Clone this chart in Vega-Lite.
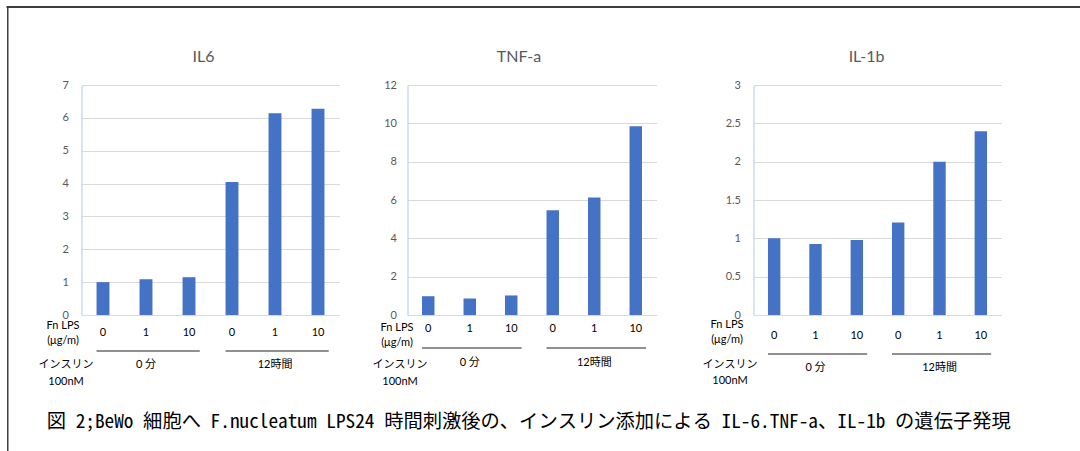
{
  "$schema": "https://vega.github.io/schema/vega-lite/v6.json",
  "padding": {"left": 6.5, "top": 6, "right": 0, "bottom": 0},
  "bounds": "flush",
  "spacing": 0,
  "config": {
    "font": "Lato, Noto Sans CJK JP",
    "view": {"stroke": null},
    "axis": {
      "labelFontSize": 11,
      "labelColor": "#595959",
      "titleFontSize": 11,
      "titleFontWeight": "normal",
      "titleColor": "#000000",
      "ticks": false,
      "gridColor": "#d9d9d9",
      "domainColor": "#b4c7e7"
    },
    "axisX": {
      "domain": false,
      "grid": false,
      "labelAngle": 0,
      "labelColor": "#000000",
      "titleAlign": "center",
      "titleBaseline": "top",
      "titleLineHeight": 15
    },
    "axisY": {"grid": true, "domain": true, "title": null},
    "title": {"fontSize": 16, "fontWeight": "normal", "color": "#595959", "frame": "group", "offset": 14},
    "text": {"fontSize": 11, "color": "#000000"},
    "rule": {"color": "#222222", "strokeWidth": 1.2}
  },
  "datasets": {
    "expr": [
      {"gene": "IL6", "cond": "0 分|0", "value": 1.0},
      {"gene": "IL6", "cond": "0 分|1", "value": 1.09},
      {"gene": "IL6", "cond": "0 分|10", "value": 1.15},
      {"gene": "IL6", "cond": "12時間|0", "value": 4.05},
      {"gene": "IL6", "cond": "12時間|1", "value": 6.14},
      {"gene": "IL6", "cond": "12時間|10", "value": 6.28},
      {"gene": "TNF-a", "cond": "0 分|0", "value": 0.98},
      {"gene": "TNF-a", "cond": "0 分|1", "value": 0.86},
      {"gene": "TNF-a", "cond": "0 分|10", "value": 1.02},
      {"gene": "TNF-a", "cond": "12時間|0", "value": 5.46},
      {"gene": "TNF-a", "cond": "12時間|1", "value": 6.13},
      {"gene": "TNF-a", "cond": "12時間|10", "value": 9.85},
      {"gene": "IL-1b", "cond": "0 分|0", "value": 1.0},
      {"gene": "IL-1b", "cond": "0 分|1", "value": 0.926},
      {"gene": "IL-1b", "cond": "0 分|10", "value": 0.978},
      {"gene": "IL-1b", "cond": "12時間|0", "value": 1.205},
      {"gene": "IL-1b", "cond": "12時間|1", "value": 2.0},
      {"gene": "IL-1b", "cond": "12時間|10", "value": 2.397}
    ],
    "groups": [
      {"insulin": "0 分", "from": "0 分|0", "mid": "0 分|1", "to": "0 分|10"},
      {"insulin": "12時間", "from": "12時間|0", "mid": "12時間|1", "to": "12時間|10"}
    ],
    "none": []
  },
  "vconcat": [
    {
      "width": 1073, "height": 0.01,
      "view": {"stroke": "#3d3d3d", "strokeWidth": 2},
      "data": {"name": "none"},
      "mark": "rule",
      "encoding": {}
    },
    {
      "bounds": "flush",
      "spacing": 73,
      "hconcat": [
        {
          "width": 0.01, "height": 444,
          "view": {"stroke": "#111111", "strokeWidth": 1.2},
          "data": {"name": "none"},
          "mark": "rule",
          "encoding": {}
        },
        {
          "bounds": "flush",
          "columns": 3,
          "align": "each",
          "spacing": {"row": 0, "column": 68},
          "title": {
            "text": "図 2;BeWo 細胞へ F.nucleatum LPS24 時間刺激後の、インスリン添加による IL-6.TNF-a、IL-1b の遺伝子発現",
            "orient": "bottom",
            "anchor": "middle",
            "frame": "bounds",
            "font": "Noto Sans Mono CJK JP, Noto Sans CJK JP",
            "fontSize": 19.3,
            "color": "#000000",
            "offset": 20,
            "dx": 9
          },
          "concat": [
            {"width": 0.01, "height": 77, "data": {"name": "none"}, "mark": "rule", "encoding": {}},
            {"width": 278, "height": 0.01, "data": {"name": "none"}, "mark": "rule", "encoding": {}},
            {"width": 0.01, "height": 0.01, "data": {"name": "none"}, "mark": "rule", "encoding": {}},
            {
              "width": 258, "height": 230,
              "title": {"text": "IL6", "dx": -7},
              "data": {"name": "expr"},
              "transform": [{"filter": "datum.gene === 'IL6'"}],
              "mark": {"type": "bar", "color": "#4472C4"},
              "encoding": {
                "x": {
                  "field": "cond", "type": "nominal", "sort": null,
                  "scale": {"paddingInner": 0.7, "paddingOuter": 0.35},
                  "axis": {"labelExpr": "split(datum.value, '|')[1]", "labelPadding": 11,
                           "title": ["Fn LPS", "(μg/m)"], "titleX": -19, "titleY": 4}
                },
                "y": {
                  "field": "value", "type": "quantitative",
                  "scale": {"domain": [0, 7], "nice": false},
                  "axis": {"values": [0, 1, 2, 3, 4, 5, 6, 7], "labelPadding": 13}
                }
              }
            },
            {
              "width": 249, "height": 230,
              "title": {"text": "TNF-a", "dx": -13},
              "data": {"name": "expr"},
              "transform": [{"filter": "datum.gene === 'TNF-a'"}],
              "mark": {"type": "bar", "color": "#4472C4"},
              "encoding": {
                "x": {
                  "field": "cond", "type": "nominal", "sort": null,
                  "scale": {"paddingInner": 0.7, "paddingOuter": 0.35},
                  "axis": {"labelExpr": "split(datum.value, '|')[1]", "labelPadding": 7,
                           "title": ["Fn LPS", "(μg/m)"], "titleX": -11, "titleY": 6}
                },
                "y": {
                  "field": "value", "type": "quantitative",
                  "scale": {"domain": [0, 12], "nice": false},
                  "axis": {"values": [0, 2, 4, 6, 8, 10, 12], "labelPadding": 11}
                }
              }
            },
            {
              "width": 248, "height": 230,
              "title": {"text": "IL-1b", "dx": -11},
              "data": {"name": "expr"},
              "transform": [{"filter": "datum.gene === 'IL-1b'"}],
              "mark": {"type": "bar", "color": "#4472C4"},
              "encoding": {
                "x": {
                  "field": "cond", "type": "nominal", "sort": null,
                  "scale": {"paddingInner": 0.7, "paddingOuter": 0.35},
                  "axis": {"labelExpr": "split(datum.value, '|')[1]", "labelPadding": 14,
                           "title": ["Fn LPS", "(μg/m)"], "titleX": -27, "titleY": 3}
                },
                "y": {
                  "field": "value", "type": "quantitative",
                  "scale": {"domain": [0, 3], "nice": false},
                  "axis": {"values": [0, 0.5, 1, 1.5, 2, 2.5, 3], "format": "~g", "labelPadding": 13}
                }
              }
            },
            {
              "width": 258, "height": 72,
              "data": {"name": "groups"},
              "encoding": {
                "x": {
                  "field": "from", "type": "nominal", "bandPosition": 0.35,
                  "scale": {"type": "band", "paddingInner": 0, "paddingOuter": 0,
                            "domain": ["0 分|0", "0 分|1", "0 分|10", "12時間|0", "12時間|1", "12時間|10"]},
                  "axis": {"orient": "top", "labels": false, "domain": false, "grid": false,
                           "title": ["インスリン", "100nM"], "titleX": -16, "titleY": 43, "titleLineHeight": 17}
                }
              },
              "layer": [
                {
                  "mark": "rule",
                  "encoding": {"x2": {"field": "to", "bandPosition": 0.75}}
                },
                {
                  "mark": {"type": "text", "dy": 14},
                  "encoding": {
                    "x": {"field": "mid", "type": "nominal", "bandPosition": 0.5},
                    "text": {"field": "insulin"}
                  }
                }
              ]
            },
            {
              "width": 249, "height": 66,
              "data": {"name": "groups"},
              "encoding": {
                "x": {
                  "field": "from", "type": "nominal", "bandPosition": 0.35,
                  "scale": {"type": "band", "paddingInner": 0, "paddingOuter": 0,
                            "domain": ["0 分|0", "0 分|1", "0 分|10", "12時間|0", "12時間|1", "12時間|10"]},
                  "axis": {"orient": "top", "labels": false, "domain": false, "grid": false,
                           "title": ["インスリン", "100nM"], "titleX": -8, "titleY": 43, "titleLineHeight": 17}
                }
              },
              "layer": [
                {
                  "mark": "rule",
                  "encoding": {"x2": {"field": "to", "bandPosition": 0.75}}
                },
                {
                  "mark": {"type": "text", "dy": 15},
                  "encoding": {
                    "x": {"field": "mid", "type": "nominal", "bandPosition": 0.5},
                    "text": {"field": "insulin"}
                  }
                }
              ]
            },
            {
              "width": 248, "height": 78,
              "data": {"name": "groups"},
              "encoding": {
                "x": {
                  "field": "from", "type": "nominal", "bandPosition": 0.35,
                  "scale": {"type": "band", "paddingInner": 0, "paddingOuter": 0,
                            "domain": ["0 分|0", "0 分|1", "0 分|10", "12時間|0", "12時間|1", "12時間|10"]},
                  "axis": {"orient": "top", "labels": false, "domain": false, "grid": false,
                           "title": ["インスリン", "100nM"], "titleX": -24, "titleY": 43, "titleLineHeight": 16}
                }
              },
              "layer": [
                {
                  "mark": "rule",
                  "encoding": {"x2": {"field": "to", "bandPosition": 0.75}}
                },
                {
                  "mark": {"type": "text", "dy": 14},
                  "encoding": {
                    "x": {"field": "mid", "type": "nominal", "bandPosition": 0.5},
                    "text": {"field": "insulin"}
                  }
                }
              ]
            }
          ]
        }
      ]
    }
  ]
}
